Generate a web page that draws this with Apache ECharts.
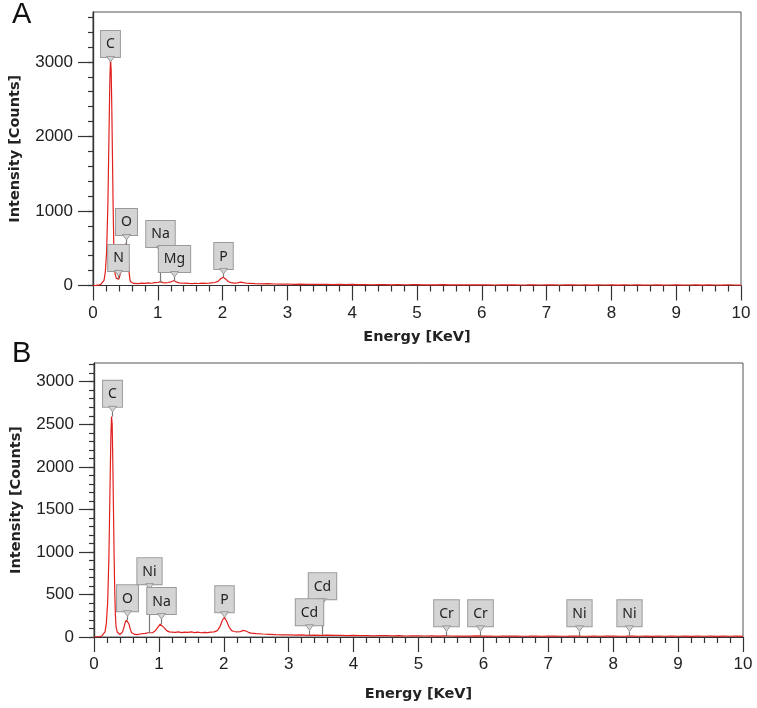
<!DOCTYPE html>
<html>
<head>
<meta charset="utf-8">
<script src="https://cdn.jsdelivr.net/npm/echarts@6/dist/echarts.min.js"></script>
<style>html,body{margin:0;padding:0;background:#fff}#c{width:757px;height:708px}</style>
</head>
<body>
<div id="c"></div>
<script>
// ---------------- DATA ----------------
// Spectrum A
const energyA = [0.00,0.04,0.08,0.12,0.15,0.17,0.19,0.21,0.23,0.25,0.26,0.27,0.28,0.29,0.30,0.31,0.32,0.33,0.34,0.36,0.38,0.40,0.42,0.44,0.46,0.48,0.50,0.52,0.54,0.55,0.56,0.57,0.58,0.60,0.63,
0.65,0.70,0.75,0.80,0.85,0.90,0.95,1.00,1.04,1.08,1.12,1.16,1.20,1.25,1.29,1.33,1.38,1.43,1.48,1.53,1.58,1.63,1.68,1.73,1.78,1.83,1.88,1.93,1.97,2.01,2.05,2.09,2.13,2.18,2.23,2.28,2.32,2.37,2.42,
2.5,2.6,2.7,2.8,2.9,3.0,3.1,3.2,3.3,3.4,3.5,3.6,3.7,3.8,3.9,4.0,4.1,4.2,4.3,4.4,4.5,4.6,4.7,4.8,4.9,5.0,5.1,5.2,5.3,5.4,5.5,5.6,5.7,5.8,5.9,6.0,6.1,6.2,6.3,6.4,6.5,6.6,6.7,6.8,6.9,7.0,
7.1,7.2,7.3,7.4,7.5,7.6,7.7,7.8,7.9,8.0,8.1,8.2,8.3,8.4,8.5,8.6,8.7,8.8,8.9,9.0,9.1,9.2,9.3,9.4,9.5,9.6,9.7,9.8,9.9,10.0];
const countsA = [0,1,4,15,30,70,180,450,1100,2200,2750,3040,2900,2400,1750,1100,600,300,160,95,80,85,110,220,420,530,560,530,400,260,150,80,50,35,28,
30,25,32,28,35,30,38,40,52,38,35,40,48,68,45,35,30,33,28,25,30,27,32,28,30,35,40,55,90,112,85,50,38,33,35,45,38,30,28,
25,22,26,20,18,20,16,18,15,17,14,16,13,15,12,14,11,13,10,12,11,9,12,10,11,13,9,10,8,11,9,10,8,9,10,8,9,7,10,8,9,7,8,10,7,8,
9,7,8,9,7,8,6,9,7,8,6,8,7,9,6,7,8,6,7,8,6,7,9,6,8,7,6,8,7,6];

// Spectrum B
const energyB = [0.00,0.04,0.08,0.12,0.15,0.17,0.19,0.21,0.23,0.25,0.26,0.27,0.28,0.29,0.30,0.31,0.32,0.33,0.34,0.36,0.38,0.40,0.42,0.44,0.46,0.48,0.50,0.52,0.54,0.56,0.58,0.60,0.63,0.67,0.71,0.75,0.79,0.83,0.86,0.90,0.94,0.98,1.02,1.05,1.08,1.12,1.16,
1.20,1.25,1.30,1.35,1.40,1.45,1.50,1.55,1.60,1.65,1.70,1.75,1.80,1.85,1.90,1.94,1.98,2.01,2.04,2.08,2.12,2.16,2.20,2.25,2.30,2.34,2.38,2.42,
2.5,2.6,2.7,2.8,2.9,3.0,3.1,3.2,3.3,3.4,3.5,3.6,3.7,3.8,3.9,4.0,4.1,4.2,4.3,4.4,4.5,4.6,4.7,4.8,4.9,5.0,5.1,5.2,5.3,5.4,5.5,5.6,5.7,5.8,5.9,6.0,6.1,6.2,6.3,6.4,6.5,6.6,6.7,6.8,6.9,7.0,
7.1,7.2,7.3,7.4,7.5,7.6,7.7,7.8,7.9,8.0,8.1,8.2,8.3,8.4,8.5,8.6,8.7,8.8,8.9,9.0,9.1,9.2,9.3,9.4,9.5,9.6,9.7,9.8,9.9,10.0];
const countsB = [0,1,3,12,25,60,160,400,950,1900,2350,2590,2500,2050,1500,950,520,250,120,55,35,30,35,60,110,170,200,195,150,90,50,35,30,28,35,40,42,50,45,50,70,110,150,145,110,75,60,
58,55,60,52,58,55,60,52,57,50,55,52,58,60,75,120,200,232,190,120,75,65,60,62,78,70,55,45,
40,35,32,28,25,26,22,24,20,22,19,21,18,20,17,18,15,17,14,16,15,13,15,12,14,13,12,14,11,13,12,10,12,11,13,10,11,9,12,10,11,9,10,12,9,10,
11,9,10,12,10,9,11,9,10,11,9,10,12,9,10,8,10,9,11,9,10,8,10,9,11,8,10,9,10,8];

// Tick labels
const xTicks = [0,1,2,3,4,5,6,7,8,9,10];
const yTicksA = [0,1000,2000,3000];
const yMinorA = [0,200,400,600,800,1000,1200,1400,1600,1800,2000,2200,2400,2600,2800,3000,3200,3400,3600];
const yTicksB = [0,500,1000,1500,2000,2500,3000];
const yMinorB = [0,100,200,300,400,500,600,700,800,900,1000,1100,1200,1300,1400,1500,1600,1700,1800,1900,2000,2100,2200,2300,2400,2500,2600,2700,2800,2900,3000,3100,3200];

// Peak annotations: element, energy (keV), counts where pointer ends, counts at box bottom
const elemA   = ['C','N','O','Na','Mg','P'];
const peakEA  = [0.27,0.39,0.51,1.04,1.25,2.01];
const peakCA  = [3040,90,550,40,60,110];
const boxCA   = [3067,195,678,517,181,221];

const elemB   = ['C','O','Ni','Na','P','Cd','Cd','Cr','Cr','Ni','Ni'];
const peakEB  = [0.277,0.51,0.84,1.03,2.0,3.51,3.32,5.42,5.95,7.47,8.25];
const peakCB  = [2590,200,45,150,232,25,20,12,10,10,10];
const boxCB   = [2705,303,621,270,291,444,138,126,126,126,126];

const yMaxA = 3670, yMaxB = 3220;

// ---------------- CHART ----------------
const chart = echarts.init(document.getElementById('c'), null, {renderer:'canvas'});
const AXC = '#333';
const tickFont = {fontFamily:'Liberation Sans, Arial, sans-serif', fontSize:17, color:'#222'};
const nameFont = {fontFamily:'DejaVu Sans, sans-serif', fontSize:14.5, fontWeight:'bold', color:'#222'};

function xAxisFor(gi, gap){
  return {
    gridIndex:gi, type:'value', min:0, max:10, interval:1, position:'bottom',
    name:'Energy [KeV]', nameLocation:'middle', nameGap:gap, nameTextStyle:nameFont,
    axisLine:{onZero:false, lineStyle:{color:AXC, width:1.2}},
    axisTick:{length:15, lineStyle:{color:AXC, width:1.2}},
    minorTick:{show:true, splitNumber:5, length:6, lineStyle:{color:AXC, width:1.2}},
    axisLabel:Object.assign({margin:19, formatter:v=>xTicks.includes(v)?String(v):''}, tickFont),
    splitLine:{show:false}
  };
}
function yMajor(gi, max, ticks){
  return {
    gridIndex:gi, type:'value', min:0, max:max, position:'left',
    name:'Intensity [Counts]', nameLocation:'middle', nameGap:70, nameTextStyle:nameFont,
    axisLine:{show:true, onZero:false, lineStyle:{color:AXC, width:1.2}},
    axisTick:{show:true, length:15, customValues:ticks, lineStyle:{color:AXC, width:1.2}},
    axisLabel:Object.assign({margin:20, customValues:ticks, formatter:v=>String(v)}, tickFont),
    splitLine:{show:false}
  };
}
function yMinor(gi, max, ticks){
  return {
    gridIndex:gi, type:'value', min:0, max:max, position:'left', offset:0,
    axisLine:{show:true, onZero:false, lineStyle:{color:AXC, width:1.2}},
    axisTick:{show:true, length:5, customValues:ticks, lineStyle:{color:AXC, width:1.2}},
    axisLabel:{show:true, customValues:ticks, formatter:()=>'' },
    splitLine:{show:false}
  };
}

function annotSeries(xi, yi, elems, es, pcs, bcs){
  const data = es.map((e,i)=>[e, pcs[i], bcs[i]]);
  return {
    type:'custom', xAxisIndex:xi, yAxisIndex:yi, clip:false, z:5,
    encode:{x:0, y:[1,2]},
    data:data,
    renderItem:function(params, api){
      const e = api.value(0), pc = api.value(1), bc = api.value(2);
      const p = api.coord([e, pc]);
      const b = api.coord([e, bc]);
      const x = Math.round(p[0]) + 0.5;
      const by = b[1];
      const tip = by + 5;
      return {
        type:'group',
        children:[
          {type:'line', shape:{x1:x, y1:tip, x2:x, y2:Math.max(p[1], tip)}, style:{stroke:'#7a7a7a', lineWidth:1.2}},
          {type:'text', x:x, y:by, style:{
            text:elems[params.dataIndex], align:'center', verticalAlign:'bottom',
            font:'14px "Noto Sans", "Open Sans", sans-serif', fill:'#222',
            backgroundColor:'#d4d4d4', borderColor:'#9a9a9a', borderWidth:1,
            padding:[4,5,3,5], lineHeight:19
          }},
          {type:'polygon', shape:{points:[[x-4, by-0.5],[x+4, by-0.5],[x, tip]]}, style:{fill:'#d4d4d4', stroke:'#9a9a9a', lineWidth:1}}
        ]
      };
    }
  };
}

const option = {
  animation:false,
  backgroundColor:'#fff',
  title:[
    {text:'A', left:12, top:0, padding:0, textStyle:{fontFamily:'Liberation Sans, Arial, sans-serif', fontSize:29, fontWeight:'normal', color:'#111'}},
    {text:'B', left:12, top:339, padding:0, textStyle:{fontFamily:'Liberation Sans, Arial, sans-serif', fontSize:29, fontWeight:'normal', color:'#111'}}
  ],
  grid:[
    {left:93, top:12, width:648, height:273.5, show:true, borderColor:'#555', borderWidth:1, backgroundColor:'transparent'},
    {left:94, top:363, width:649, height:274, show:true, borderColor:'#555', borderWidth:1, backgroundColor:'transparent'}
  ],
  xAxis:[ xAxisFor(0, 44), xAxisFor(1, 50) ],
  yAxis:[ yMajor(0, yMaxA, yTicksA), yMinor(0, yMaxA, yMinorA), yMajor(1, yMaxB, yTicksB), yMinor(1, yMaxB, yMinorB) ],
  series:[
    {type:'line', xAxisIndex:0, yAxisIndex:0, showSymbol:false, symbol:'none',
     lineStyle:{color:'#e0201e', width:1.2}, data:energyA.map((e,i)=>[e, countsA[i]]), z:3},
    {type:'line', xAxisIndex:1, yAxisIndex:2, showSymbol:false, symbol:'none',
     lineStyle:{color:'#e0201e', width:1.2}, data:energyB.map((e,i)=>[e, countsB[i]]), z:3},
    annotSeries(0, 0, elemA, peakEA, peakCA, boxCA),
    annotSeries(1, 2, elemB, peakEB, peakCB, boxCB)
  ]
};
chart.setOption(option);
</script>
</body>
</html>
